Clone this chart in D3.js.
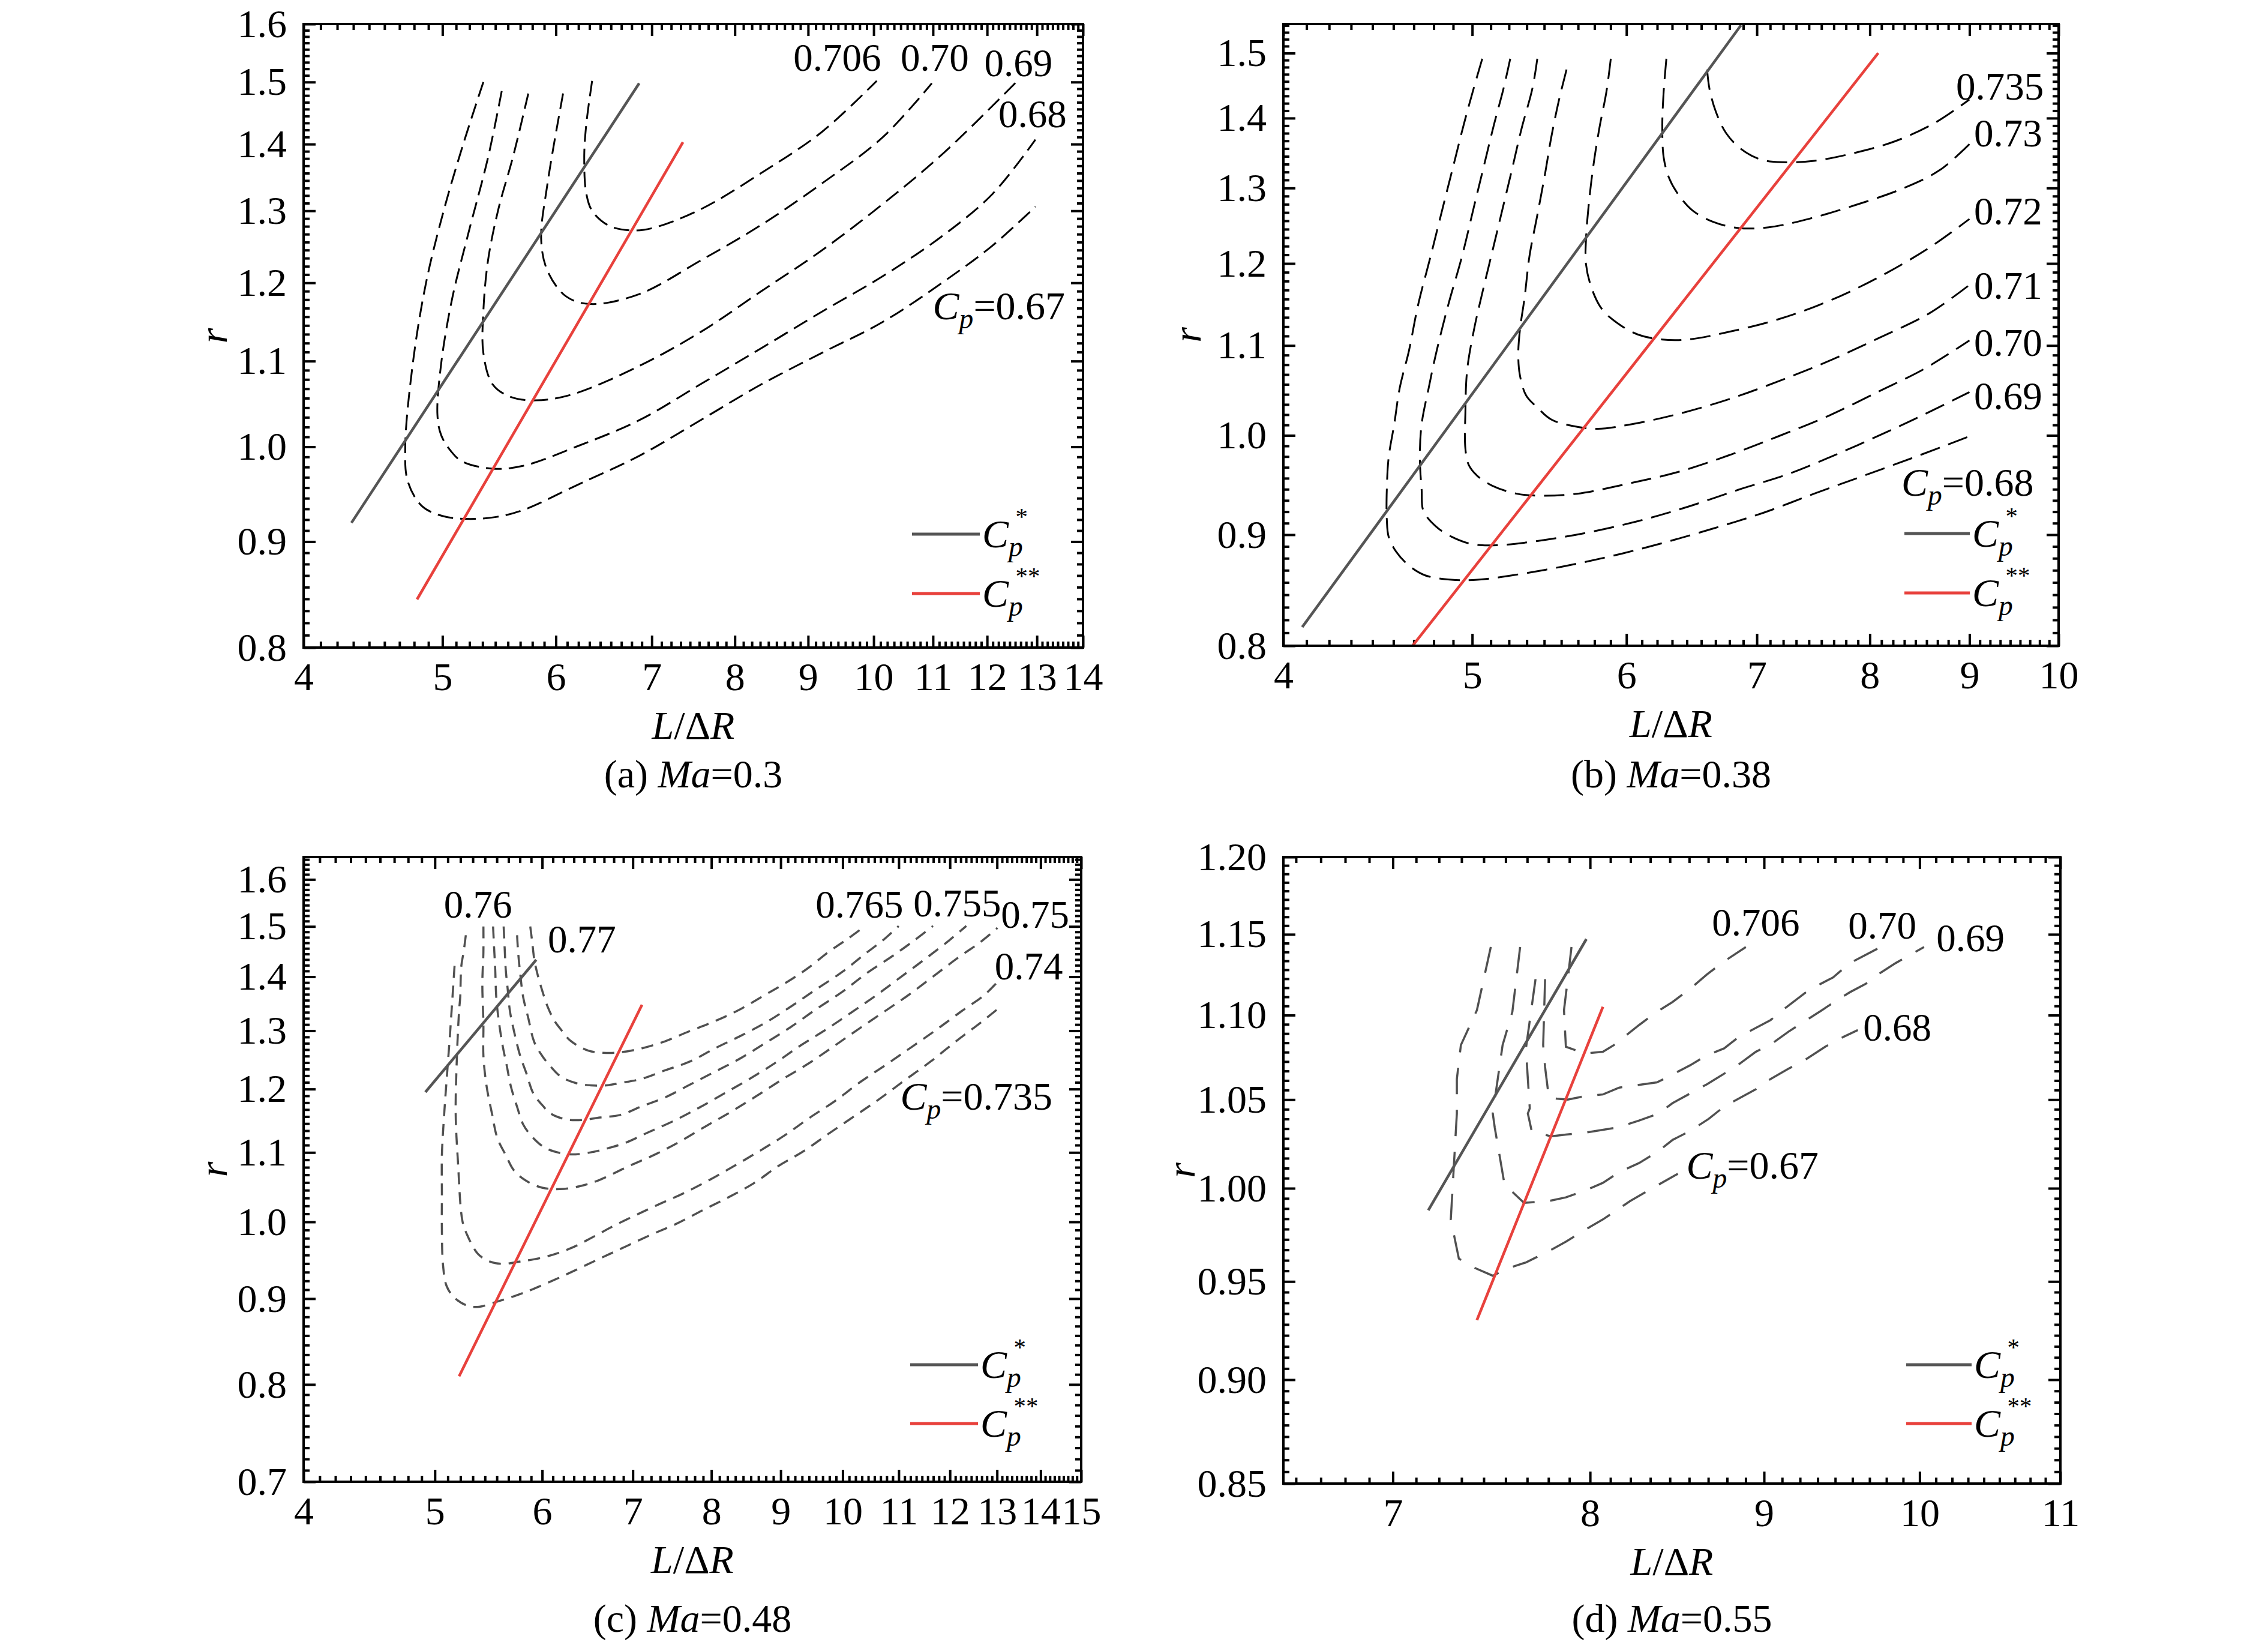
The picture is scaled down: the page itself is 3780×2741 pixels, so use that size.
<!DOCTYPE html>
<html>
<head>
<meta charset="utf-8">
<script src="https://cdn.jsdelivr.net/npm/d3@7/dist/d3.min.js"></script>
<style>
  body { margin: 0; background: #fff; }
</style>
</head>
<body>
<svg id="fig" width="3780" height="2741"></svg>
<script>
// ---------- (a) Ma=0.3 ----------
var xTicksA = [4, 5, 6, 7, 8, 9, 10, 11, 12, 13, 14];
var yTicksA = [0.8, 0.9, 1.0, 1.1, 1.2, 1.3, 1.4, 1.5, 1.6];
var a_cp067 = [[5.34,1.50],[5.17,1.40],[5.01,1.30],[4.87,1.20],[4.77,1.10],[4.71,1.00],[4.73,0.962],[4.84,0.936],[5.00,0.926],[5.20,0.923],[5.45,0.925],[5.69,0.932],[6.22,0.959],[6.86,0.990],[7.57,1.030],[8.35,1.072],[9.20,1.110],[10.15,1.149],[11.20,1.202],[12.11,1.251],[12.97,1.306]];
var a_cp068 = [[5.50,1.485],[5.38,1.379],[5.21,1.266],[5.08,1.18],[4.99,1.097],[4.96,1.036],[4.99,1.013],[5.07,0.995],[5.16,0.984],[5.42,0.976],[5.69,0.979],[6.22,1.001],[6.86,1.030],[7.57,1.072],[8.35,1.116],[9.20,1.162],[10.15,1.209],[11.20,1.266],[12.11,1.325],[12.97,1.407]];
var a_cp069 = [[5.74,1.481],[5.60,1.38],[5.47,1.302],[5.38,1.23],[5.34,1.162],[5.34,1.110],[5.42,1.072],[5.58,1.057],[5.81,1.053],[6.16,1.060],[6.86,1.094],[7.57,1.136],[8.35,1.189],[9.20,1.244],[10.15,1.310],[11.20,1.387],[12.60,1.502]];
var a_cp070 = [[6.07,1.481],[5.92,1.340],[5.86,1.259],[5.92,1.216],[6.10,1.182],[6.34,1.172],[6.86,1.185],[7.57,1.230],[8.35,1.280],[9.20,1.340],[10.15,1.411],[10.98,1.498]];
var a_cp0706 = [[6.36,1.502],[6.30,1.43],[6.28,1.38],[6.30,1.326],[6.36,1.300],[6.53,1.279],[6.76,1.272],[7.00,1.275],[7.57,1.302],[8.35,1.356],[9.20,1.419],[10.05,1.502]];
var a_cpStar = [[4.32,0.919],[6.86,1.498]];
var a_cpStar2 = [[4.80,0.844],[7.36,1.403]];
var a_labels = [['0.706',9.43,1.542],['0.70',11.03,1.542],['0.69',12.62,1.533],['0.68',12.91,1.448]];
var a_cpLabel = ['0.67',12.23,1.168];

// ---------- (b) Ma=0.38 ----------
var xTicksB = [4, 5, 6, 7, 8, 9, 10];
var yTicksB = [0.8, 0.9, 1.0, 1.1, 1.2, 1.3, 1.4, 1.5];
var b_cp068 = [[5.06,1.491],[5.01,1.446],[4.95,1.390],[4.89,1.331],[4.83,1.274],[4.76,1.209],[4.69,1.148],[4.64,1.094],[4.59,1.052],[4.56,1.012],[4.53,0.977],[4.52,0.944],[4.52,0.915],[4.53,0.898],[4.57,0.884],[4.64,0.871],[4.73,0.862],[4.88,0.858],[5.03,0.858],[5.24,0.862],[5.56,0.870],[5.90,0.880],[6.26,0.892],[6.65,0.906],[7.05,0.921],[7.49,0.940],[7.94,0.958],[8.43,0.977],[9.00,0.999]];
var b_cp069 = [[5.23,1.491],[5.19,1.446],[5.13,1.390],[5.07,1.331],[5.01,1.274],[4.94,1.209],[4.86,1.148],[4.79,1.090],[4.75,1.052],[4.71,1.012],[4.70,0.977],[4.71,0.944],[4.72,0.923],[4.79,0.908],[4.88,0.898],[5.00,0.891],[5.15,0.890],[5.40,0.894],[5.73,0.902],[6.08,0.913],[6.45,0.927],[6.85,0.944],[7.27,0.960],[7.71,0.981],[8.19,1.005],[8.58,1.025],[9.00,1.047]];
var b_cp070 = [[5.40,1.491],[5.37,1.446],[5.30,1.384],[5.24,1.325],[5.18,1.269],[5.12,1.215],[5.06,1.163],[5.01,1.118],[4.97,1.071],[4.96,1.025],[4.96,0.986],[4.98,0.969],[5.03,0.958],[5.12,0.948],[5.27,0.940],[5.43,0.938],[5.66,0.940],[6.01,0.950],[6.38,0.962],[6.77,0.979],[7.18,0.999],[7.62,1.021],[8.09,1.048],[8.53,1.073],[9.00,1.106]];
var b_cp071 = [[5.59,1.474],[5.54,1.427],[5.49,1.372],[5.45,1.320],[5.40,1.263],[5.35,1.209],[5.32,1.158],[5.29,1.118],[5.28,1.090],[5.29,1.066],[5.33,1.043],[5.40,1.030],[5.49,1.017],[5.63,1.010],[5.80,1.007],[6.04,1.012],[6.38,1.023],[6.77,1.039],[7.18,1.059],[7.62,1.082],[8.09,1.109],[8.58,1.138],[9.00,1.173]];
var b_cp072 = [[5.89,1.491],[5.86,1.440],[5.81,1.384],[5.77,1.331],[5.74,1.280],[5.72,1.231],[5.72,1.199],[5.76,1.168],[5.83,1.143],[5.94,1.126],[6.08,1.113],[6.26,1.107],[6.45,1.107],[6.77,1.116],[7.18,1.131],[7.62,1.153],[8.09,1.183],[8.58,1.220],[9.00,1.258]];
var b_cp073 = [[6.29,1.491],[6.27,1.440],[6.26,1.390],[6.27,1.343],[6.31,1.314],[6.38,1.291],[6.49,1.269],[6.65,1.254],[6.85,1.246],[7.10,1.247],[7.44,1.258],[7.85,1.276],[8.33,1.300],[8.69,1.325],[9.00,1.362]];
var b_cp0735 = [[6.60,1.474],[6.62,1.443],[6.67,1.409],[6.75,1.378],[6.87,1.355],[7.03,1.340],[7.22,1.336],[7.49,1.338],[7.85,1.349],[8.24,1.366],[8.64,1.393],[9.00,1.428]];
var b_cpStar = [[4.09,0.816],[6.87,1.545]];
var b_cpStar2 = [[4.66,0.80],[8.08,1.500]];
var b_labels = [['0.735',9.33,1.449],['0.73',9.42,1.378],['0.72',9.42,1.269],['0.71',9.42,1.173],['0.70',9.42,1.104],['0.69',9.42,1.043]];
var b_cpLabel = ['0.68',8.98,0.950];

// ---------- (c) Ma=0.48 ----------
var xTicksC = [4, 5, 6, 7, 8, 9, 10, 11, 12, 13, 14, 15];
var yTicksC = [0.7, 0.8, 0.9, 1.0, 1.1, 1.2, 1.3, 1.4, 1.5, 1.6];
var c_cp0735 = [[5.17,1.421],[5.15,1.355],[5.13,1.293],[5.11,1.239],[5.08,1.160],[5.06,1.096],[5.06,1.040],[5.06,0.987],[5.07,0.942],[5.10,0.916],[5.17,0.901],[5.29,0.891],[5.39,0.890],[5.55,0.896],[5.72,0.903],[5.91,0.912],[6.19,0.927],[6.62,0.951],[6.92,0.967],[7.23,0.983],[7.55,0.998],[7.88,1.016],[8.23,1.034],[8.59,1.054],[8.97,1.080],[9.36,1.102],[9.77,1.129],[10.20,1.156],[10.65,1.184],[11.12,1.215],[11.61,1.246],[12.12,1.281],[12.65,1.315],[13.01,1.339]];
var c_cp074 = [[5.27,1.482],[5.25,1.448],[5.23,1.421],[5.22,1.361],[5.21,1.336],[5.19,1.250],[5.18,1.160],[5.20,1.086],[5.24,1.001],[5.28,0.983],[5.38,0.957],[5.49,0.947],[5.61,0.944],[5.78,0.947],[6.03,0.953],[6.29,0.964],[6.55,0.980],[6.80,0.996],[7.31,1.024],[7.63,1.040],[7.97,1.059],[8.32,1.080],[8.68,1.102],[9.06,1.126],[9.46,1.154],[9.88,1.181],[10.31,1.212],[10.77,1.241],[11.24,1.271],[11.73,1.302],[12.25,1.336],[12.72,1.365],[13.01,1.390]];
var c_cp075 = [[5.43,1.500],[5.43,1.448],[5.42,1.387],[5.43,1.311],[5.43,1.256],[5.46,1.204],[5.51,1.160],[5.56,1.122],[5.64,1.096],[5.72,1.073],[5.84,1.058],[6.00,1.048],[6.19,1.046],[6.39,1.050],[6.59,1.058],[6.96,1.080],[7.27,1.097],[7.59,1.117],[7.92,1.140],[8.27,1.163],[8.63,1.188],[9.01,1.215],[9.41,1.241],[9.83,1.271],[10.26,1.302],[10.71,1.333],[11.18,1.365],[11.67,1.401],[12.18,1.438],[12.65,1.469],[13.01,1.497]];
var c_cp0755 = [[5.52,1.500],[5.53,1.455],[5.54,1.414],[5.55,1.361],[5.57,1.323],[5.61,1.274],[5.65,1.239],[5.69,1.204],[5.75,1.171],[5.81,1.143],[5.91,1.122],[6.03,1.107],[6.19,1.099],[6.35,1.097],[6.55,1.101],[6.70,1.106],[6.92,1.115],[7.19,1.131],[7.51,1.149],[7.84,1.170],[8.18,1.193],[8.54,1.217],[8.92,1.244],[9.31,1.274],[9.72,1.302],[10.15,1.333],[10.59,1.365],[11.06,1.401],[11.55,1.438],[11.99,1.472],[12.34,1.501]];
var c_cp076 = [[5.62,1.500],[5.63,1.455],[5.64,1.414],[5.66,1.374],[5.68,1.336],[5.72,1.299],[5.78,1.256],[5.84,1.227],[5.91,1.193],[6.00,1.174],[6.09,1.160],[6.25,1.151],[6.42,1.150],[6.62,1.154],[6.85,1.158],[7.11,1.172],[7.39,1.186],[7.71,1.207],[8.05,1.229],[8.41,1.252],[8.78,1.279],[9.16,1.307],[9.56,1.339],[9.99,1.371],[10.42,1.407],[10.88,1.440],[11.30,1.472],[11.66,1.501]];
var c_cp0765 = [[5.75,1.482],[5.76,1.448],[5.78,1.407],[5.81,1.361],[5.86,1.323],[5.92,1.280],[6.00,1.256],[6.08,1.239],[6.19,1.221],[6.35,1.210],[6.52,1.206],[6.69,1.206],[6.85,1.210],[7.11,1.217],[7.39,1.231],[7.71,1.246],[8.05,1.269],[8.41,1.291],[8.78,1.315],[9.16,1.344],[9.56,1.376],[9.99,1.409],[10.37,1.443],[10.71,1.472],[11.00,1.501]];
var c_cp077 = [[5.88,1.500],[5.90,1.468],[5.92,1.434],[5.95,1.407],[6.00,1.374],[6.06,1.342],[6.13,1.317],[6.21,1.299],[6.29,1.283],[6.49,1.265],[6.69,1.261],[6.85,1.262],[7.11,1.269],[7.39,1.281],[7.67,1.297],[8.01,1.315],[8.36,1.336],[8.73,1.363],[9.06,1.387],[9.41,1.415],[9.77,1.449],[10.09,1.475],[10.39,1.501]];
var c_cpStar = [[4.92,1.195],[5.94,1.433]];
var c_cpStar2 = [[5.21,0.809],[7.11,1.347]];
var c_labels = [['0.76',5.38,1.547],['0.77',6.42,1.475],['0.765',10.29,1.547],['0.755',12.15,1.550],['0.75',13.87,1.526],['0.74',13.72,1.421]];
var c_cpLabel = ['0.735',12.55,1.186];

// ---------- (d) Ma=0.55 ----------
var xTicksD = [7, 8, 9, 10, 11];
var yTicksD = [0.85, 0.90, 0.95, 1.00, 1.05, 1.10, 1.15, 1.20];
var d_cp067 = [[7.48,1.142],[7.41,1.103],[7.33,1.082],[7.31,1.062],[7.31,1.042],[7.30,1.022],[7.29,1.002],[7.28,0.983],[7.32,0.962],[7.38,0.958],[7.49,0.953],[7.57,0.957],[7.66,0.960],[7.78,0.966],[7.87,0.971],[8.00,0.979],[8.07,0.983],[8.22,0.993],[8.38,1.002],[8.49,1.008]];
var d_cp068 = [[7.63,1.142],[7.59,1.102],[7.54,1.082],[7.49,1.042],[7.50,1.034],[7.55,1.002],[7.65,0.992],[7.78,0.993],[7.87,0.995],[7.98,0.999],[8.07,1.003],[8.16,1.009],[8.27,1.014],[8.37,1.020],[8.46,1.027],[8.56,1.032],[8.67,1.039],[8.76,1.046],[8.95,1.056],[9.04,1.062],[9.15,1.068],[9.25,1.073],[9.38,1.081],[9.50,1.087],[9.59,1.091]];
var d_cp069 = [[7.71,1.122],[7.66,1.080],[7.67,1.062],[7.68,1.045],[7.67,1.042],[7.69,1.032],[7.79,1.029],[7.87,1.030],[7.97,1.031],[8.15,1.034],[8.27,1.038],[8.38,1.042],[8.46,1.048],[8.66,1.059],[8.71,1.062],[8.84,1.070],[8.95,1.078],[9.05,1.083],[9.15,1.090],[9.36,1.103],[9.47,1.110],[9.54,1.114],[9.64,1.119],[9.74,1.126],[9.84,1.132],[10.03,1.142]];
var d_cp070 = [[7.76,1.122],[7.75,1.082],[7.76,1.069],[7.78,1.051],[7.88,1.050],[7.97,1.052],[8.07,1.053],[8.16,1.057],[8.37,1.060],[8.41,1.062],[8.56,1.070],[8.66,1.076],[8.76,1.080],[8.85,1.087],[9.04,1.097],[9.10,1.102],[9.26,1.114],[9.35,1.119],[9.43,1.123],[9.54,1.132],[9.74,1.142]];
var d_cp0706 = [[7.90,1.142],[7.88,1.122],[7.86,1.103],[7.87,1.081],[7.97,1.077],[8.07,1.078],[8.13,1.082],[8.27,1.094],[8.37,1.102],[8.46,1.108],[8.56,1.116],[8.66,1.125],[8.76,1.133],[8.89,1.142]];
var d_cpStar = [[7.17,0.988],[7.98,1.147]];
var d_cpStar2 = [[7.41,0.930],[8.07,1.105]];
var d_labels = [['0.706',8.95,1.158],['0.70',9.75,1.156],['0.69',10.35,1.148],['0.68',9.85,1.093]];
var d_cpLabel = ['0.67',8.93,1.012];

// ---------- drawing ----------
var FONT = '"Liberation Serif", "Times New Roman", serif';
var svg = d3.select('#fig');
svg.append('rect').attr('width', 3780).attr('height', 2741).attr('fill', '#fff');

// 8 minor ticks between majors (major interval split in 9)
function minorTicks(lo, hi, step) {
    var out = [];
    for (var i = Math.floor(lo / step + 1e-9) - 1; i * step < hi; i++) {
        for (var k = 1; k <= 8; k++) {
            var v = (i + k / 9) * step;
            if (v > lo + 1e-9 && v < hi - 1e-9) out.push(v);
        }
    }
    return out;
}

function styleAxis(sel) {
    sel.select('.domain').remove();
    sel.selectAll('line').attr('stroke', '#000').attr('stroke-width', 4);
    sel.selectAll('text')
        .attr('font-family', FONT)
        .attr('font-size', 66)
        .attr('fill', '#000');
}

function addCp(text, value) {
    text.append('tspan').attr('font-style', 'italic').text('C');
    text.append('tspan').attr('font-style', 'italic').attr('font-size', '0.72em').attr('dy', '0.32em').text('p');
    text.append('tspan').attr('dy', '-0.23em').text('=' + value);
}

function addCpStar(text, stars) {
    text.append('tspan').attr('font-style', 'italic').text('C');
    text.append('tspan').attr('font-style', 'italic').attr('font-size', '0.72em').attr('dy', '0.32em').text('p');
    text.append('tspan').attr('font-size', '0.62em').attr('dx', '-0.3em').attr('dy', '-1.3em').text(stars);
}

function drawPanel(p) {
    var W = p.box[2] - p.box[0], H = p.box[3] - p.box[1];
    var g = svg.append('g').attr('transform', `translate(${p.box[0]},${p.box[1]})`);

    var x = d3.scaleLog().domain(p.xDomain).range([0, W]);
    var y = d3.scaleLog().domain(p.yDomain).range([H, 0]);

    g.append('clipPath').attr('id', 'clip_' + p.id)
        .append('rect').attr('width', W).attr('height', H);

    var xMinor = minorTicks(p.xDomain[0], p.xDomain[1], 1);
    var yMinor = minorTicks(p.yDomain[0], p.yDomain[1], p.yStep);

    // bottom / top
    g.append('g').attr('transform', `translate(0,${H})`)
        .call(d3.axisBottom(x).tickValues(p.xTicks).tickFormat(d3.format('d')).tickSize(-20).tickPadding(24))
        .call(styleAxis);
    g.append('g').attr('transform', `translate(0,${H})`)
        .call(d3.axisBottom(x).tickValues(xMinor).tickFormat('').tickSize(-10))
        .call(styleAxis);
    g.append('g')
        .call(d3.axisTop(x).tickValues(p.xTicks).tickFormat('').tickSize(-20))
        .call(styleAxis);
    g.append('g')
        .call(d3.axisTop(x).tickValues(xMinor).tickFormat('').tickSize(-10))
        .call(styleAxis);
    // left / right
    g.append('g')
        .call(d3.axisLeft(y).tickValues(p.yTicks).tickFormat(d3.format(p.yFmt)).tickSize(-20).tickPadding(28))
        .call(styleAxis);
    g.append('g')
        .call(d3.axisLeft(y).tickValues(yMinor).tickFormat('').tickSize(-10))
        .call(styleAxis);
    g.append('g').attr('transform', `translate(${W},0)`)
        .call(d3.axisRight(y).tickValues(p.yTicks).tickFormat('').tickSize(-20))
        .call(styleAxis);
    g.append('g').attr('transform', `translate(${W},0)`)
        .call(d3.axisRight(y).tickValues(yMinor).tickFormat('').tickSize(-10))
        .call(styleAxis);

    var plot = g.append('g').attr('clip-path', `url(#clip_${p.id})`);

    var contour = d3.line()
        .x(function(d) { return x(d[0]); })
        .y(function(d) { return y(d[1]); })
        .curve(p.smooth ? d3.curveCatmullRom.alpha(0.5) : d3.curveLinear);
    var straight = d3.line()
        .x(function(d) { return x(d[0]); })
        .y(function(d) { return y(d[1]); });

    p.curves.forEach(function(c) {
        plot.append('path')
            .attr('d', contour(c))
            .attr('fill', 'none')
            .attr('stroke', p.color)
            .attr('stroke-width', p.width)
            .attr('stroke-dasharray', p.dash);
    });

    plot.append('path').attr('d', straight(p.star))
        .attr('fill', 'none').attr('stroke', '#555').attr('stroke-width', 4.5);
    plot.append('path').attr('d', straight(p.star2))
        .attr('fill', 'none').attr('stroke', '#e8413c').attr('stroke-width', 4.5);

    // contour labels
    g.selectAll('text.clab')
        .data(p.labels)
        .enter()
        .append('text')
        .attr('class', 'clab')
        .attr('x', function(d) { return x(d[1]); })
        .attr('y', function(d) { return y(d[2]); })
        .attr('dy', '0.35em')
        .attr('text-anchor', 'middle')
        .attr('font-family', FONT)
        .attr('font-size', 65)
        .text(function(d) { return d[0]; });

    var cpt = g.append('text')
        .attr('x', x(p.cpLabel[1]))
        .attr('y', y(p.cpLabel[2]))
        .attr('dy', '0.3em')
        .attr('text-anchor', 'middle')
        .attr('font-family', FONT)
        .attr('font-size', 66);
    addCp(cpt, p.cpLabel[0]);

    // legend
    var leg = g.append('g');
    [['*', '#555', H - p.legY[0]], ['**', '#e8413c', H - p.legY[1]]].forEach(function(l) {
        leg.append('line')
            .attr('x1', W - p.legX[0]).attr('x2', W - p.legX[1])
            .attr('y1', l[2]).attr('y2', l[2])
            .attr('stroke', l[1]).attr('stroke-width', 5);
        var t = leg.append('text')
            .attr('x', W - p.legX[1] + 4).attr('y', l[2] + 22)
            .attr('font-family', FONT)
            .attr('font-size', 66);
        addCpStar(t, l[0]);
    });

    // frame
    g.append('rect').attr('width', W).attr('height', H)
        .attr('fill', 'none').attr('stroke', '#000').attr('stroke-width', 4);

    // axis titles
    var xt = g.append('text')
        .attr('x', W / 2).attr('y', H + 152)
        .attr('text-anchor', 'middle')
        .attr('font-family', FONT).attr('font-size', 66);
    xt.append('tspan').attr('font-style', 'italic').text('L');
    xt.append('tspan').text('/Δ');
    xt.append('tspan').attr('font-style', 'italic').text('R');

    g.append('text')
        .attr('transform', `translate(${-p.rGap},${H / 2}) rotate(-90)`)
        .attr('text-anchor', 'middle')
        .attr('dy', '0.3em')
        .attr('font-family', FONT).attr('font-size', 66)
        .attr('font-style', 'italic')
        .text('r');

    var cap = g.append('text')
        .attr('x', W / 2).attr('y', H + p.capOffset)
        .attr('text-anchor', 'middle')
        .attr('font-family', FONT).attr('font-size', 66);
    cap.append('tspan').text(p.capLetter + ' ');
    cap.append('tspan').attr('font-style', 'italic').text('Ma');
    cap.append('tspan').text('=' + p.ma);
}

drawPanel({
    id: 'a', box: [506, 40, 1805, 1079],
    xDomain: [4, 14], yDomain: [0.8, 1.6], yStep: 0.1, yFmt: '.1f',
    xTicks: xTicksA, yTicks: yTicksA,
    curves: [a_cp067, a_cp068, a_cp069, a_cp070, a_cp0706],
    star: a_cpStar, star2: a_cpStar2,
    labels: a_labels, cpLabel: a_cpLabel,
    color: '#000', width: 3, dash: '26,12', smooth: true,
    legX: [285, 172], legY: [189, 90], rGap: 148,
    capLetter: '(a)', ma: '0.3', capOffset: 233
});

drawPanel({
    id: 'b', box: [2139, 40, 3431, 1076],
    xDomain: [4, 10], yDomain: [0.8, 1.547], yStep: 0.1, yFmt: '.1f',
    xTicks: xTicksB, yTicks: yTicksB,
    curves: [b_cp068, b_cp069, b_cp070, b_cp071, b_cp072, b_cp073, b_cp0735],
    star: b_cpStar, star2: b_cpStar2,
    labels: b_labels, cpLabel: b_cpLabel,
    color: '#000', width: 3, dash: '34,15', smooth: true,
    legX: [257, 148], legY: [187, 88], rGap: 158,
    capLetter: '(b)', ma: '0.38', capOffset: 236
});

drawPanel({
    id: 'c', box: [506, 1428, 1802, 2469],
    xDomain: [4, 15], yDomain: [0.7, 1.65], yStep: 0.1, yFmt: '.1f',
    xTicks: xTicksC, yTicks: yTicksC,
    curves: [c_cp0735, c_cp074, c_cp075, c_cp0755, c_cp076, c_cp0765, c_cp077],
    star: c_cpStar, star2: c_cpStar2,
    labels: c_labels, cpLabel: c_cpLabel,
    color: '#505050', width: 3.5, dash: '20,13', smooth: true,
    legX: [285, 172], legY: [195, 97], rGap: 148,
    capLetter: '(c)', ma: '0.48', capOffset: 250
});

drawPanel({
    id: 'd', box: [2139, 1428, 3434, 2472],
    xDomain: [6.5, 11], yDomain: [0.85, 1.2], yStep: 0.05, yFmt: '.2f',
    xTicks: xTicksD, yTicks: yTicksD,
    curves: [d_cp067, d_cp068, d_cp069, d_cp070, d_cp0706],
    star: d_cpStar, star2: d_cpStar2,
    labels: d_labels, cpLabel: d_cpLabel,
    color: '#505050', width: 3.5, dash: '44,26', smooth: false,
    legX: [257, 148], legY: [198, 100], rGap: 168,
    capLetter: '(d)', ma: '0.55', capOffset: 247
});
</script>
</body>
</html>
